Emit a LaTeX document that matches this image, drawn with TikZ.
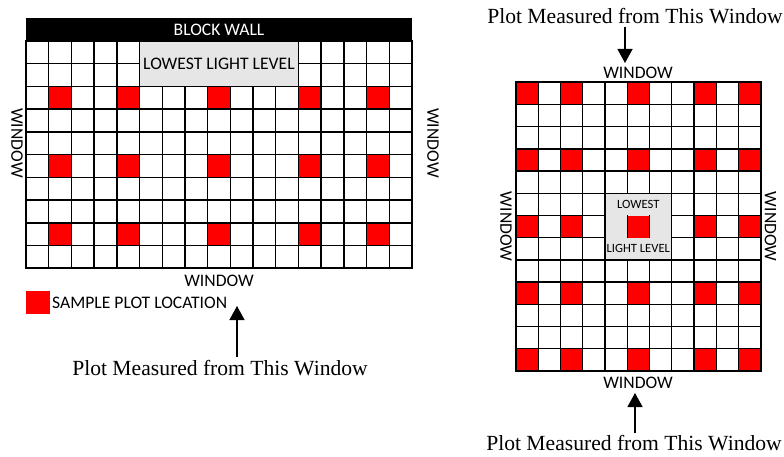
\documentclass[tikz,border=0pt]{standalone}
\usepackage{fontspec}
\setmainfont{Liberation Serif}
\newfontfamily\calib{Carlito}
\usetikzlibrary{arrows.meta}
\definecolor{lowgray}{RGB}{230,230,230}
\definecolor{plotred}{RGB}{255,0,0}

\begin{document}
\begin{tikzpicture}[x=1pt,y=-1pt,
  lab/.style={font=\calib\fontsize{17.6}{20}\selectfont, inner sep=0pt},
  smalllab/.style={font=\calib\fontsize{12.6}{14}\selectfont, inner sep=0pt},
  caption/.style={font=\fontsize{21.6}{24}\selectfont, inner sep=0pt},
  gridline/.style={line width=1.4pt, line cap=rect},
  frameline/.style={line width=1.7pt},
  arr/.style={line width=1.3pt, -{Triangle[width=15pt,length=14pt]}},
]
\useasboundingbox (0,0) rectangle (784,457);

% ---------- left room: 17 x 10 cells below a block wall ----------
\def\LX{26}\def\LY{41}\def\LW{22.706}\def\LH{22.73}
\foreach \r in {2,5,8}
  \foreach \c in {1,4,8,12,15}
    \fill[plotred] ({\LX+\c*\LW},{\LY+\r*\LH}) rectangle ++(\LW,\LH);
\foreach \c in {1,...,16}
  \draw[gridline] ({\LX+\c*\LW},\LY) -- ++(0,{10*\LH});
\foreach \r in {1,...,9}
  \draw[gridline] (\LX,{\LY+\r*\LH}) -- ++({17*\LW},0);
\draw[frameline] (\LX,\LY) rectangle ({\LX+17*\LW},{\LY+10*\LH});
\fill[black] (\LX,18) rectangle ({\LX+17*\LW},\LY);
\node[lab, text=white] (wall) at ({\LX+8.5*\LW},29.5) {BLOCK WALL};
\filldraw[fill=lowgray, gridline] ({\LX+5*\LW},\LY) rectangle ({\LX+12*\LW},{\LY+2*\LH});
\node[lab] (lowL) at ({\LX+8.5*\LW},{\LY+\LH}) {LOWEST LIGHT LEVEL};

\node[lab, rotate=-90] (winLl) at (17,143) {WINDOW};
\node[lab, rotate=-90] (winLr) at (433,143) {WINDOW};
\node[lab] (winLb) at (219,281) {WINDOW};

% legend
\fill[plotred] (26,291) rectangle (50,314);
\node[lab, anchor=west] (legend) at (52,303) {SAMPLE PLOT LOCATION};

% measuring direction, left room
\node[caption] (capL) at (220,368) {Plot Measured from This Window};
\coordinate (tailL) at (237,357);
\coordinate (tipL) at (237,306);
\draw[arr] (tailL) -- (tipL);

% ---------- right room: 11 x 13 cells, windows on all sides ----------
\def\RX{516}\def\RY{82.3}\def\RW{22.245}\def\RH{22.2}
\foreach \r in {0,3,6,9,12}
  \foreach \c in {0,2,5,8,10}
    \fill[plotred] ({\RX+\c*\RW},{\RY+\r*\RH}) rectangle ++(\RW,\RH);
\foreach \c in {1,...,10}
  \draw[gridline] ({\RX+\c*\RW},\RY) -- ++(0,{13*\RH});
\foreach \r in {1,...,12}
  \draw[gridline] (\RX,{\RY+\r*\RH}) -- ++({11*\RW},0);
\draw[frameline] (\RX,\RY) rectangle ({\RX+11*\RW},{\RY+13*\RH});
% lowest light level block in the middle
\filldraw[fill=lowgray, gridline] ({\RX+4*\RW},{\RY+5*\RH}) rectangle ({\RX+7*\RW},{\RY+8*\RH});
\fill[plotred] ({\RX+5*\RW},{\RY+6*\RH}) rectangle ++(\RW,\RH);
\draw[gridline] ({\RX+5*\RW},{\RY+6*\RH}) -- ++(0,\RH);
\draw[gridline] ({\RX+6*\RW},{\RY+6*\RH}) -- ++(0,\RH);
\node[smalllab] (lowR1) at ({\RX+5.5*\RW},{\RY+5.5*\RH}) {LOWEST};
\node[smalllab] (lowR2) at ({\RX+5.5*\RW},{\RY+7.5*\RH}) {LIGHT LEVEL};

\node[lab] (winRt) at (638,73) {WINDOW};
\node[lab] (winRb) at (638,383) {WINDOW};
\node[lab, rotate=-90] (winRl) at (506,226.7) {WINDOW};
\node[lab, rotate=-90] (winRr) at (770.5,226.7) {WINDOW};

% measuring directions, right room
\node[caption] (capRt) at (635,16) {Plot Measured from This Window};
\coordinate (tailRt) at (625,27);
\coordinate (tipRt) at (625,63);
\draw[arr] (tailRt) -- (tipRt);

\node[caption] (capRb) at (634,443) {Plot Measured from This Window};
\coordinate (tailRb) at (635,433);
\coordinate (tipRb) at (635,393);
\draw[arr] (tailRb) -- (tipRb);
\end{tikzpicture}
\end{document}
